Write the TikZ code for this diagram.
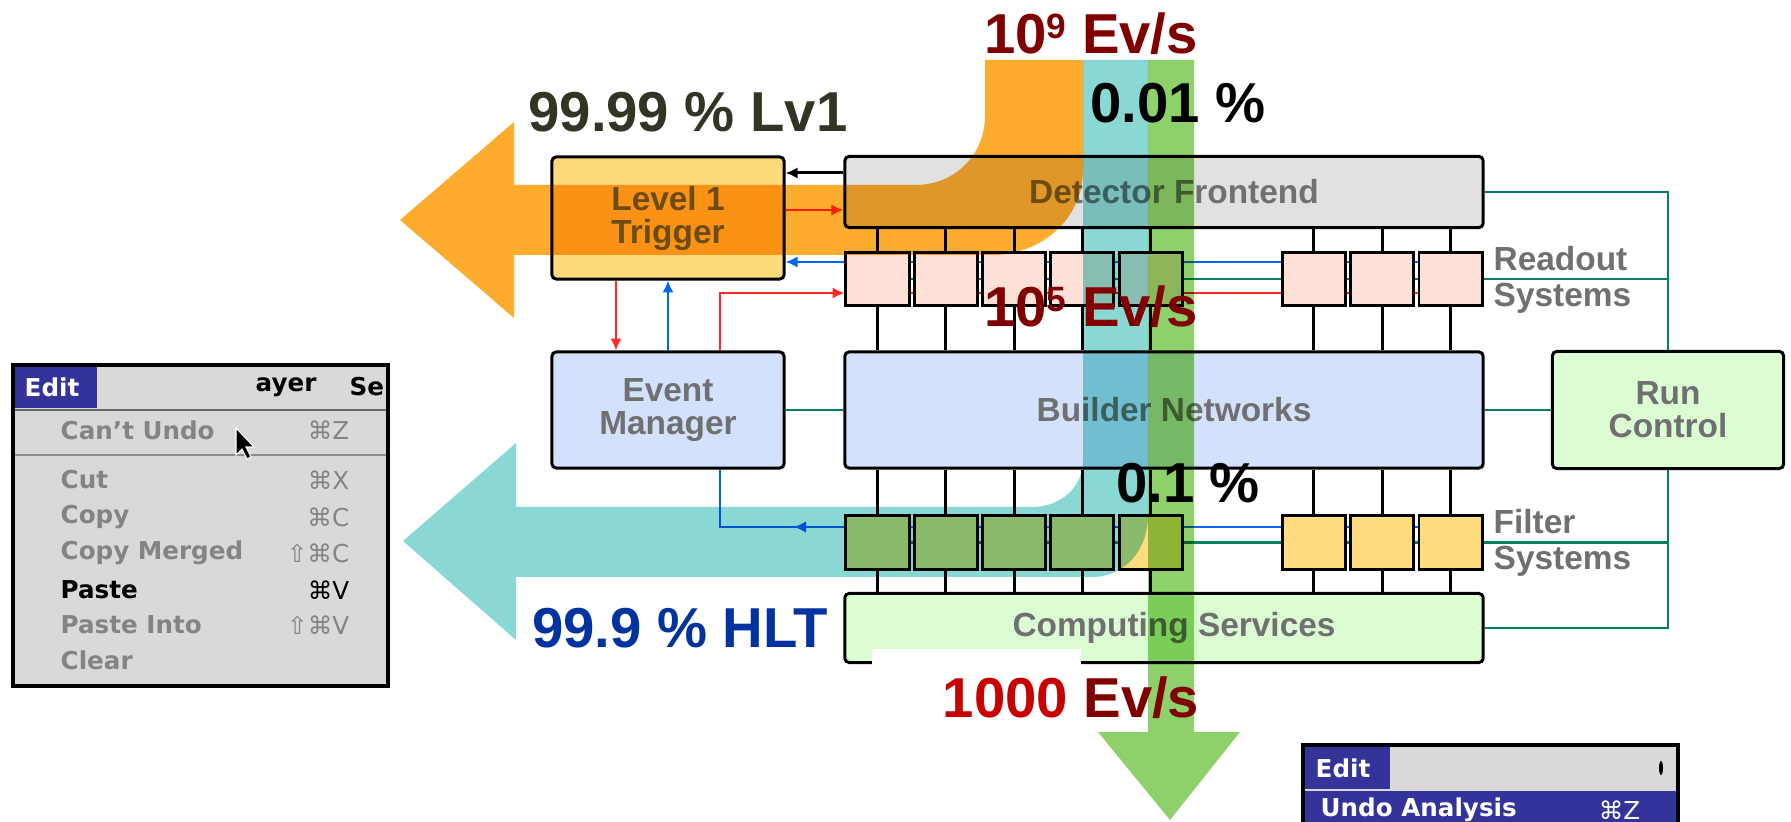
\documentclass[tikz,border=0pt]{standalone}
\usepackage{fontspec}
\setmainfont{Liberation Sans}
\newfontfamily\menufont{DejaVu Sans}
\usetikzlibrary{arrows.meta, positioning, backgrounds, decorations.markings}
\definecolor{dfgray}{RGB}{225,225,225}
\definecolor{lvyellow}{RGB}{252,217,122}
\definecolor{rofill}{RGB}{253,225,214}
\definecolor{bnblue}{RGB}{212,225,252}
\definecolor{csgreen}{RGB}{220,252,212}
\definecolor{fsyellow}{RGB}{255,220,128}
\definecolor{labelgray}{RGB}{112,112,112}
\definecolor{wireblue}{RGB}{0,100,255}
\definecolor{wirered}{RGB}{255,40,40}
\definecolor{wiregreen}{RGB}{0,128,100}
\definecolor{bandorange}{RGB}{253,172,46}
\definecolor{bandteal}{RGB}{138,216,212}
\definecolor{bandgreen}{RGB}{142,208,106}
\definecolor{ratered}{RGB}{128,0,0}
\definecolor{brightred}{RGB}{200,0,0}
\definecolor{lvdark}{RGB}{51,51,38}
\definecolor{hltblue}{RGB}{0,51,160}
\definecolor{menublue}{RGB}{51,51,153}
\definecolor{menugray}{RGB}{217,217,217}
\definecolor{menudim}{RGB}{132,132,132}
\newcommand{\expo}[1]{\raisebox{0.28em}{\fontsize{10}{10}\selectfont #1}}

\begin{document}
\begin{tikzpicture}[
    x=0.01cm, y=-0.01cm,
    >={Latex[length=3.4pt,width=3.2pt]},
    box/.style={draw, line width=0.85pt, rounded corners=1.2pt, inner sep=0pt, align=center, text=labelgray, font=\fontsize{9.5}{9.4}\selectfont\bfseries},
    slot/.style={draw, line width=0.85pt, minimum width=0.63cm, minimum height=0.52cm, inner sep=0pt},
    side/.style={anchor=west, align=left, inner sep=0pt, text=labelgray, font=\fontsize{9.5}{10.2}\selectfont\bfseries},
    wire/.style={line width=0.85pt},
    ctl/.style={line width=0.75pt, wiregreen},
    blueline/.style={line width=0.75pt, wireblue},
    redline/.style={line width=0.75pt, wirered},
    midarrow/.style={postaction={decorate}, decoration={markings, mark=at position 0.28 with {\arrow{Latex[length=3.6pt,width=3.4pt]}}}},
    band/.style={blend mode=multiply},
    rate/.style={inner sep=0pt, font=\fontsize{16}{18}\selectfont\bfseries},
    menuitem/.style={anchor=west, inner sep=0pt, text=menudim, font=\menufont\fontsize{7}{8}\selectfont\bfseries},
    menukey/.style={anchor=east, inner sep=0pt, text=menudim, font=\menufont\fontsize{7}{8}\selectfont}
]
\useasboundingbox (0,0) rectangle (1791,822);

% === Bloques ===
\node[box, fill=lvyellow, minimum width=2.32cm, minimum height=1.22cm] (L1) at (668,218) {Level 1\\Trigger};
\node[box, fill=bnblue, minimum width=2.32cm, minimum height=1.16cm] (EM) at (668,410) {Event\\Manager};
\node[box, fill=dfgray, minimum width=6.38cm, minimum height=0.71cm] (DF) at (1164,192) {\hspace{0.2cm}Detector Frontend};
\node[box, fill=bnblue, minimum width=6.38cm, minimum height=1.16cm] (BN) at (1164,410) {\hspace{0.2cm}Builder Networks};
\node[box, fill=csgreen, minimum width=6.38cm, minimum height=0.69cm] (CS) at (1164,628) {\hspace{0.2cm}Computing Services};
\node[box, fill=csgreen, minimum width=2.31cm, minimum height=1.17cm] (RC) at (1668,410) {Run\\Control};

% === Readout y Filter ===
\foreach \x [count=\i] in {877.5,945.8,1014.1,1082.4,1150.7,1313.9,1382.2,1450.5} {
    \node[slot, fill=rofill] (R\i) at (\x,279) {};
    \node[slot, fill=fsyellow, minimum height=0.53cm] (F\i) at (\x,542.5) {};
    \draw[wire] (R\i.north) -- (R\i.north |- DF.south);
    \draw[wire] (R\i.south) -- (R\i.south |- BN.north);
    \draw[wire] (F\i.north) -- (F\i.north |- BN.south);
    \draw[wire] (F\i.south) -- (F\i.south |- CS.north);
}
\node[side] (ROlab) at (1493,280) {Readout\\Systems};
\node[side] (FSlab) at (1493,543) {Filter\\Systems};

% === Buses de fila ===
\begin{pgfonlayer}{background}
    \draw[blueline, ->] ([yshift=0.17cm]R8.west) -- ([yshift=0.17cm]R8.west -| L1.east);
    \draw[ctl] (R1.west) -- (R1.west -| RC.north);
    \draw[redline] ([yshift=-0.14cm]R1.west) -- ([yshift=-0.14cm]R8.west);
    \draw[blueline] ([yshift=0.155cm]F8.west) -- ([yshift=0.155cm]F1.west);
    \draw[ctl] (F1.west) -- (F1.west -| RC.south);
\end{pgfonlayer}

% === Flechas ===
\draw[wire, ->] ([yshift=0.19cm]DF.west) -- ([yshift=0.19cm]DF.west -| L1.east);
\draw[redline, ->] ([yshift=-0.18cm]DF.west -| L1.east) -- ([yshift=-0.18cm]DF.west);
\draw[redline, ->] ([xshift=-0.52cm]L1.south) -- ([xshift=-0.52cm]EM.north);
\draw[blueline, ->] (EM.north) -- (L1.south);
\draw[redline, ->] ([xshift=0.52cm]EM.north) |- ([yshift=-0.14cm]R1.west);
\draw[blueline, midarrow] ([yshift=0.155cm]F1.west) -| ([xshift=0.52cm]EM.south);

% Run Control
\draw[ctl] (EM.east) -- (BN.west);
\draw[ctl] (BN.east) -- (RC.west);
\draw[ctl] (DF.east) -| (RC.north);
\draw[ctl] (CS.east) -| (RC.south);

% === Flujos ===
\fill[band, bandorange] (985,60) -- (985,115) .. controls (985,155) and (955,185) .. (915,185) -- (514,185) -- (514,122) -- (400,220) -- (514,318) -- (514,255) -- (992,255) .. controls (1040,255) and (1083,220) .. (1083,170) -- (1083,60) -- cycle;
\fill[band, bandteal] (1083,60) -- (1083,460) .. controls (1083,488) and (1060,507) .. (1032,507) -- (516,507) -- (516,443) -- (403,541) -- (516,640) -- (516,577) -- (1092,577) .. controls (1125,577) and (1148,550) .. (1148,515) -- (1148,60) -- cycle;
\fill[band, bandgreen] (1148,60) -- (1148,732) -- (1098,732) -- (1170,820) -- (1240,732) -- (1194,732) -- (1194,60) -- cycle;
\fill[white] (872,649) rectangle (1081,700);

% === Tasas ===
\node[rate, text=ratered] (r9) at (1091,34) {10\expo{9} Ev/s};
\node[rate, text=lvdark] (lv1) at (688,112) {99.99 \% Lv1};
\node[rate] (p001) at (1178,103) {0.01 \%};
\node[rate, text=ratered] (r5) at (1091,307) {10\expo{5} Ev/s};
\node[rate] (p01) at (1188,483) {0.1 \%};
\node[rate, text=hltblue] (hlt) at (680,628) {99.9 \% HLT};
\node[rate] (r3) at (1071,698) {\textcolor{brightred}{1000} \textcolor{ratered}{Ev/s}};

% === Menu Edit ===
\begin{scope}
    \clip (13,365) rectangle (388,686);
    \fill[menugray] (13,365) rectangle (388,686);
    \fill[menublue] (13,365) rectangle (97,408);
    \draw[line width=0.6pt, black!60] (13,410) -- (388,410);
    \draw[line width=0.6pt, black!45] (13,455) -- (388,455);
    \node[menuitem, text=white] (mEdit) at (24,387) {Edit};
    \node[menuitem, text=black] (mLayer) at (255,387) {ayer};
    \node[menuitem, text=black] (mSel) at (349,387) {Se};
    \foreach \y/\item/\key in {430/Can’t Undo/⌘Z, 480/Cut/⌘X, 517/Copy/⌘C, 553/Copy Merged/⇧⌘C, 625/Paste Into/⇧⌘V, 660/Clear/} {
        \node[menuitem] at (60,\y) {\item};
        \node[menukey] at (350,\y) {\key};
    }
    \node[menuitem, text=black] (mPaste) at (60,590) {Paste};
    \node[menukey, text=black] (kPaste) at (350,590) {⌘V};
    \filldraw[draw=white, fill=black, line width=0.3pt] (236,428) -- ++(0,27) -- ++(6,-6) -- ++(5,10) -- ++(4,-2) -- ++(-5,-10) -- ++(8,0) -- cycle;
\end{scope}
\draw[line width=1pt] (13,365) rectangle (388,686);

\begin{scope}
    \clip (1303,745) rectangle (1678,822);
    \fill[menugray] (1303,745) rectangle (1678,822);
    \fill[menublue] (1303,745) rectangle (1390,789);
    \fill[menublue] (1303,791) rectangle (1678,822);
    \node[menuitem, text=white] (uEdit) at (1315,768) {Edit};
    \node[menuitem, text=white] (uUndo) at (1320,810) {Undo Analysis};
    \node[menukey, text=white] (uKey) at (1641,810) {⌘Z};
    \fill (1661,768) ellipse (2 and 7);
\end{scope}
\draw[line width=1pt] (1303,822) -- (1303,745) -- (1678,745) -- (1678,822);
\end{tikzpicture}
\end{document}
